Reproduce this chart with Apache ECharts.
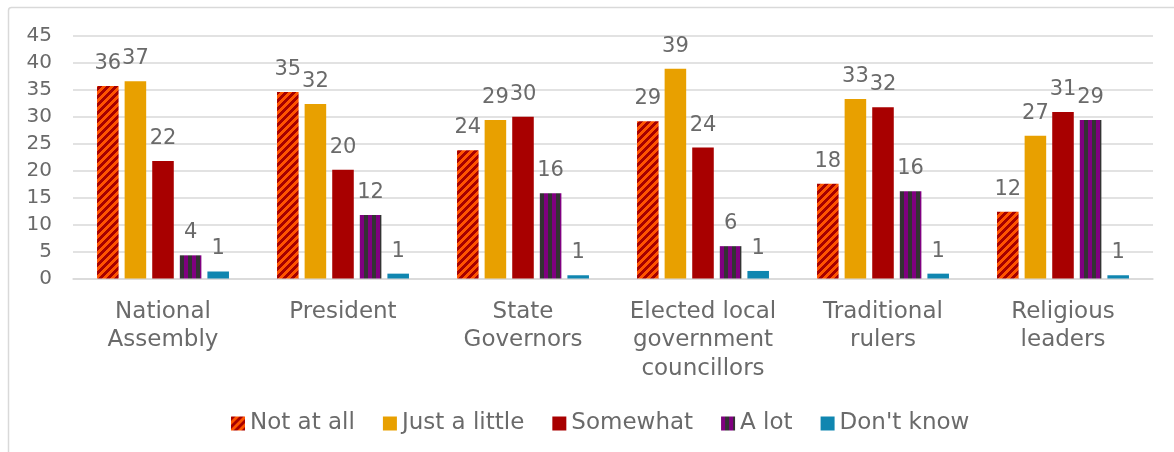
<!DOCTYPE html>
<html>
<head>
<meta charset="utf-8">
<script src="https://cdn.jsdelivr.net/npm/echarts@6/dist/echarts.min.js"></script>
<style>
  html, body { margin: 0; padding: 0; background: #ffffff; }
  #chart { width: 1174px; height: 452px; }
</style>
</head>
<body>
<div id="chart"></div>
<script>
// Institutions asked about
const categories = [
  'National\nAssembly',
  'President',
  'State\nGovernors',
  'Elected local\ngovernment\ncouncillors',
  'Traditional\nrulers',
  'Religious\nleaders'
];

// Share of respondents (%) per answer
const notAtAll    = [35.7, 34.6, 23.8, 29.2, 17.6, 12.4];
const justALittle = [36.6, 32.4, 29.4, 38.9, 33.3, 26.5];
const somewhat    = [21.8, 20.2, 30.0, 24.3, 31.8, 30.9];
const aLot        = [4.3, 11.8, 15.8, 6.0, 16.2, 29.4];
const dontKnow    = [1.3, 0.9, 0.6, 1.4, 0.9, 0.6];

const seriesNames = ['Not at all', 'Just a little', 'Somewhat', 'A lot', "Don't know"];
const yTicks = [0, 5, 10, 15, 20, 25, 30, 35, 40, 45];

const FONT = 'DejaVu Sans';
const TEXT = '#6a6a6a';

// Orange fill with dark red upward diagonal stripes
function diagonalTile() {
  const c = document.createElement('canvas');
  c.width = 8; c.height = 8;
  const ctx = c.getContext('2d');
  ctx.fillStyle = '#FF5400';
  ctx.fillRect(0, 0, 8, 8);
  ctx.fillStyle = '#A60000';
  for (let y = 0; y < 8; y++) {
    for (let x = 0; x < 8; x++) {
      if ((x + y) % 8 < 4) ctx.fillRect(x, y, 1, 1);
    }
  }
  return { image: c, repeat: 'repeat' };
}

// Dark grey / purple vertical stripes
function verticalTile() {
  const c = document.createElement('canvas');
  c.width = 8; c.height = 8;
  const ctx = c.getContext('2d');
  ctx.fillStyle = '#800080';
  ctx.fillRect(0, 0, 8, 8);
  ctx.fillStyle = '#333333';
  ctx.fillRect(4, 0, 4, 8);
  return { image: c, repeat: 'repeat' };
}

const fills = [diagonalTile(), '#E8A000', '#A80000', verticalTile(), '#1086B0'];
const values = [notAtAll, justALittle, somewhat, aLot, dontKnow];

const chart = echarts.init(document.getElementById('chart'), null, { renderer: 'canvas' });

const series = seriesNames.map((name, i) => ({
  name: name,
  type: 'bar',
  data: values[i],
  barGap: '28%',
  barCategoryGap: '26.7%',
  itemStyle: { color: fills[i] },
  label: {
    show: true,
    position: 'top',
    distance: 12,
    color: TEXT,
    fontFamily: FONT,
    fontSize: 21,
    formatter: p => String(Math.round(p.value))
  }
}));

chart.setOption({
  animation: false,
  backgroundColor: '#ffffff',
  graphic: [{
    type: 'rect',
    shape: { x: 8.5, y: 7.5, width: 1200, height: 500, r: 3 },
    style: { fill: 'none', stroke: '#d9d9d9', lineWidth: 1.5 },
    silent: true,
    z: -1
  }],
  grid: { left: 73, right: 21, top: 36, bottom: 173.5, containLabel: false },
  legend: {
    data: seriesNames,
    left: 226,
    top: 407,
    icon: 'rect',
    itemWidth: 14,
    itemHeight: 14,
    itemGap: 28,
    textStyle: { color: TEXT, fontFamily: FONT, fontSize: 23, padding: [0, 0, 0, 0] }
  },
  xAxis: {
    type: 'category',
    data: categories,
    axisTick: { show: false },
    axisLine: { lineStyle: { color: '#d9d9d9', width: 1.5 } },
    axisLabel: {
      color: TEXT,
      fontFamily: FONT,
      fontSize: 23,
      lineHeight: 28.5,
      margin: 19,
      interval: 0
    }
  },
  yAxis: {
    type: 'value',
    min: yTicks[0],
    max: yTicks[yTicks.length - 1],
    interval: 5,
    axisLine: { show: false },
    axisTick: { show: false },
    splitLine: { lineStyle: { color: '#d9d9d9', width: 1.5 } },
    axisLabel: {
      color: TEXT,
      fontFamily: FONT,
      fontSize: 20,
      margin: 21
    }
  },
  series: series
});
</script>
</body>
</html>
